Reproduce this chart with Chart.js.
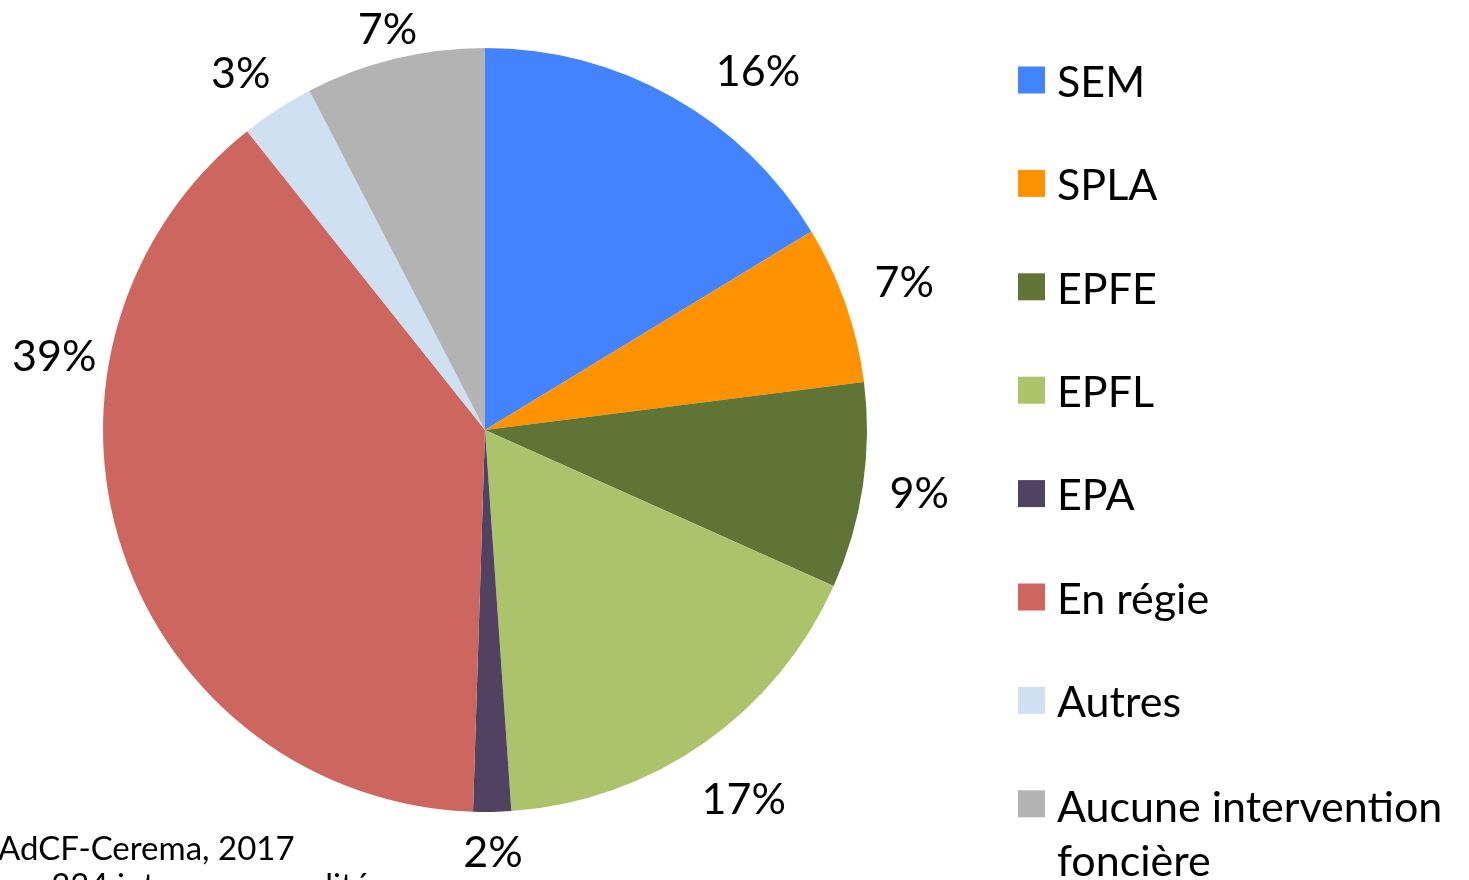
<!DOCTYPE html>
<html>
<head>
<meta charset="utf-8">
<script src="https://cdn.jsdelivr.net/npm/chart.js@4"></script>
<style>
  html, body { margin: 0; padding: 0; background: #fff; overflow: hidden; }
  #box { width: 1469px; height: 880px; position: relative; }
</style>
</head>
<body>
<div id="box"><canvas id="camembert"></canvas></div>
<script>
// donnees
var categories = ['SEM', 'SPLA', 'EPFE', 'EPFL', 'EPA', 'En régie', 'Autres', 'Aucune intervention foncière'];
var valeurs = [16.3, 6.7, 8.7, 17.2, 1.6, 38.8, 3.1, 7.6];
var etiquettes = ['16%', '7%', '9%', '17%', '2%', '39%', '3%', '7%'];
var couleurs = ['#4383FF', '#FF9200', '#607435', '#ABC46C', '#524262', '#CD665F', '#CFE0F2', '#B3B3B3'];

var police = 'Lato, "Open Sans", sans-serif';

// petits decalages d'angle (degres) pour placer les etiquettes comme excel
var decalage = [8, 0, 0, 0, 0, 28, -1.5, 0];
var distEtiq = [450, 444, 439, 452, 423, 437, 432, 412];

var dessinTextes = {
    id: 'dessinTextes',
    afterDraw: function(chart) {
        var ctx = chart.ctx;
        var arcs = chart.getDatasetMeta(0).data;
        ctx.save();
        ctx.fillStyle = '#000';
        ctx.textAlign = 'center';
        ctx.textBaseline = 'middle';
        ctx.font = '43px ' + police;
        arcs.forEach(function(a, i) {
            var mid = (a.startAngle + a.endAngle) / 2 + decalage[i] * Math.PI / 180;
            var x = a.x + Math.cos(mid) * distEtiq[i];
            var y = a.y + Math.sin(mid) * distEtiq[i];
            ctx.fillText(etiquettes[i], x, y);
        });

        // legende
        ctx.textAlign = 'left';
        for (var i = 0; i < categories.length; i++) {
            var yc = 80 + i * 103.4;
            ctx.fillStyle = couleurs[i];
            ctx.fillRect(1018, yc - 13.5, 27, 27);
            ctx.fillStyle = '#000';
            if (i == categories.length - 1) {
                ctx.fillText('Aucune intervention', 1057, yc + 4);
                ctx.fillText('foncière', 1057, yc + 58);
            } else {
                ctx.fillText(categories[i], 1057, yc + 3);
            }
        }

        // source
        ctx.font = '33px ' + police;
        ctx.textBaseline = 'alphabetic';
        ctx.fillText('AdCF-Cerema, 2017', -2, 860);
        ctx.fillText('sur 334 intercommunalités', -2, 897);
        ctx.restore();
    }
};

document.addEventListener("DOMContentLoaded", function() {
    var ctx = document.getElementById("camembert").getContext('2d');
    var graphique = new Chart(ctx, {
        type: 'pie',
        data: {
            labels: categories,
            datasets: [{
                data: valeurs,
                backgroundColor: couleurs,
                borderWidth: 0
            }]
        },
        options: {
            responsive: true,
            maintainAspectRatio: false,
            animation: false,
            layout: {
                padding: { left: 103, right: 602, top: 48, bottom: 68 }
            },
            plugins: {
                legend: { display: false },
                tooltip: { enabled: false }
            }
        },
        plugins: [dessinTextes]
    });
});
</script>
</body>
</html>
